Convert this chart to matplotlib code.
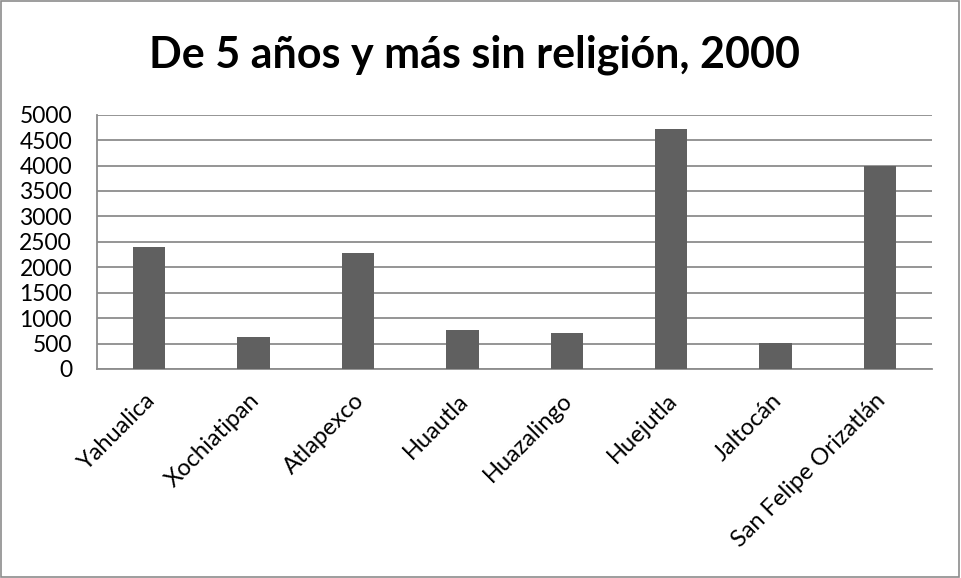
import matplotlib.pyplot as plt
import matplotlib.transforms as mtransforms
from matplotlib.patches import Rectangle

# municipalities and population aged 5+ without religion (2000)
municipios = ['Yahualica', 'Xochiatipan', 'Atlapexco', 'Huautla',
              'Huazalingo', 'Huejutla', 'Jaltocán', 'San Felipe Orizatlán']
sin_religion = [2395, 625, 2275, 768, 710, 4712, 507, 3990]
yticks = [0, 500, 1000, 1500, 2000, 2500, 3000, 3500, 4000, 4500, 5000]

plt.rcParams['font.family'] = ['Lato', 'DejaVu Sans']

fig = plt.figure(figsize=(9.61, 5.78), dpi=100)
ax = fig.add_axes([0.101, 0.3616, 0.869, 0.44])

index = range(len(municipios))
ax.bar(index, sin_religion, width=0.31, color='#606060', zorder=3)

ax.set_xlim(-0.5, len(municipios) - 0.5)
ax.set_ylim(0, 5000)
ax.set_yticks(yticks)
ax.set_yticklabels([str(v) for v in yticks], fontsize=16.5)
ax.set_xticks(list(index))
ax.set_xticklabels(municipios, fontsize=17, rotation=45, ha='right',
                   rotation_mode='anchor')
ax.tick_params(axis='both', length=0)
ax.tick_params(axis='y', pad=18)
ax.tick_params(axis='x', pad=15)

# nudge rotated labels a little to the left
shift = mtransforms.ScaledTranslation(-5 / 100, 0, fig.dpi_scale_trans)
for lbl in ax.get_xticklabels():
    lbl.set_transform(lbl.get_transform() + shift)

ax.grid(axis='y', color='#8c8c8c', linewidth=1.3, zorder=0)
for side in ['top', 'right']:
    ax.spines[side].set_visible(False)
for side in ['left', 'bottom']:
    ax.spines[side].set_color('#8c8c8c')
    ax.spines[side].set_linewidth(1.3)

fig.text(0.494, 0.905, 'De 5 años y más sin religión, 2000', ha='center',
         va='center', fontsize=31, fontweight='bold')

# chart border
fig.patches.append(Rectangle((0.001, 0.002), 0.997, 0.996, transform=fig.transFigure,
                             fill=False, edgecolor='#8c8c8c', linewidth=1.2))

plt.savefig('out.png', dpi=100)
